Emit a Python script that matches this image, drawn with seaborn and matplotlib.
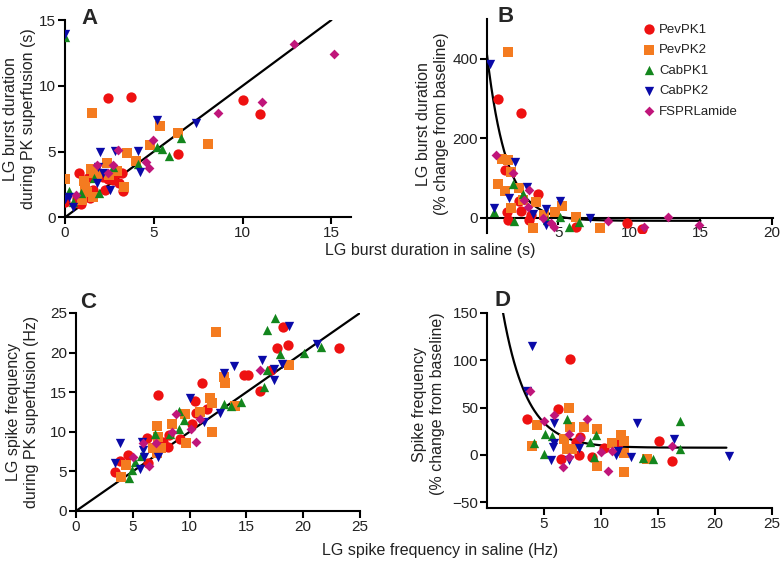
import numpy as np
import pandas as pd
import matplotlib
matplotlib.use("Agg")
import matplotlib.pyplot as plt
import seaborn as sns

sns.set_style("ticks")
plt.rcParams['font.family'] = ['Liberation Sans', 'DejaVu Sans']

groups = ["PevPK1", "PevPK2", "CabPK1", "CabPK2", "FSPRLamide"]
colors = {"PevPK1": "#ee1111", "PevPK2": "#f47b20", "CabPK1": "#13861d",
          "CabPK2": "#0a0aa8", "FSPRLamide": "#c0157a"}
markers = {"PevPK1": "o", "PevPK2": "s", "CabPK1": "^", "CabPK2": "v", "FSPRLamide": "D"}
sizes = {"PevPK1": 55, "PevPK2": 45, "CabPK1": 45, "CabPK2": 45, "FSPRLamide": 25}

# ---------------- Panel A: burst duration (s) saline vs PK ----------------
A_pev1_x = [2.44, 3.7, 10.0, 10.97, 6.34, 0.8, 0.0, 0.69, 0.75, 1.31, 1.44, 1.4, 1.6, 1.93, 2.12, 2.25, 2.44, 2.68, 2.91, 3.06, 3.19, 3.24, 0.9]
A_pev1_y = [9.04, 9.16, 8.9, 7.82, 4.78, 3.4, 1.16, 1.44, 1.1, 2.96, 1.94, 1.44, 2.07, 3.34, 3.08, 2.07, 2.88, 2.83, 3.34, 2.63, 3.34, 2.02, 1.0]
A_pev2_x = [1.5, 5.35, 6.38, 8.07, 4.78, 3.47, 4.0, 2.35, 1.46, 0.0, 1.65, 1.09, 1.23, 1.6, 2.5, 1.13, 0.94, 1.8, 2.9, 3.3]
A_pev2_y = [7.9, 6.94, 6.38, 5.54, 5.47, 4.86, 4.3, 4.15, 3.64, 2.9, 3.39, 2.78, 1.94, 1.56, 3.24, 2.33, 1.3, 3.2, 3.5, 2.3]
A_cab1_x = [0.0, 0.25, 0.47, 0.9, 1.63, 1.93, 2.72, 5.2, 5.44, 5.87, 6.53, 4.13]
A_cab1_y = [13.7, 2.0, 1.2, 1.87, 2.96, 1.82, 3.85, 5.37, 5.19, 4.68, 6.02, 4.05]
A_cab2_x = [0.0, 0.0, 0.24, 0.47, 1.97, 2.81, 4.13, 4.22, 5.16, 7.35, 1.84, 2.53, 1.78, 2.16]
A_cab2_y = [13.9, 1.4, 1.57, 0.76, 4.94, 5.01, 5.04, 3.47, 7.39, 7.14, 3.85, 2.08, 2.63, 3.39]
A_fsp_x = [12.9, 15.16, 11.1, 8.6, 4.97, 2.96, 4.56, 4.75, 1.82, 0.62, 2.72, 2.44]
A_fsp_y = [13.16, 12.45, 8.73, 7.95, 5.87, 5.11, 4.23, 3.72, 3.97, 1.7, 3.97, 3.34]

# ---------------- Panel B: burst duration % change ----------------
B_pev1_x = [0.76, 2.38, 3.6, 1.3, 1.41, 1.46, 2.22, 2.39, 2.97, 3.08, 6.25, 9.86, 10.9]
B_pev1_y = [299, 263, 60, 120, 15, -6, 43, 17, -6, 7, -23, -13, -29]
B_pev2_x = [1.46, 1.07, 1.46, 1.69, 0.77, 1.3, 2.27, 1.69, 2.5, 3.47, 3.2, 4.0, 4.77, 5.28, 6.27, 7.94]
B_pev2_y = [417, 147, 145, 116, 85, 68, 74, 24, 45, 39, -27, 7, 15, 30, 1, -27]
B_cab1_x = [0.47, 1.81, 2.5, 1.92, 4.19, 5.16, 5.74, 6.48]
B_cab1_y = [13, 85, 59, -8, -6, 1, -23, -10]
B_cab2_x = [0.19, 0.47, 1.99, 1.58, 2.8, 3.2, 4.12, 4.12, 5.1, 7.25]
B_cab2_y = [387, 24, 140, 50, 78, 8, 21, -18, 43, -2]
B_fsp_x = [0.6, 1.81, 2.97, 2.62, 2.9, 3.96, 4.47, 4.7, 8.47, 11.0, 12.75, 14.9]
B_fsp_y = [158, 112, 70, 45, 27, -2, -13, -23, -8, -23, 1, -18]
# exponential fit drawn in panel B
B_fit_span, B_fit_k, B_fit_plateau, B_fit_xmax = 418.0, 0.72, -8.0, 15.0

# ---------------- Panel C: spike frequency (Hz) saline vs PK ----------------
C_pev1_x = [3.44, 3.88, 4.56, 6.24, 6.38, 7.26, 7.7, 8.06, 8.15, 9.18, 10.2, 10.5, 10.6, 11.1, 11.5, 14.76, 15.1, 16.2, 17.2, 17.7, 18.2, 18.7, 23.15]
C_pev1_y = [4.94, 6.33, 7.05, 9.25, 6.08, 14.65, 8.74, 8.1, 9.59, 9.04, 10.98, 13.9, 12.33, 16.2, 12.84, 17.19, 17.19, 15.2, 17.74, 20.57, 23.18, 20.99, 20.57]
C_pev2_x = [3.97, 4.41, 7.12, 7.2, 6.76, 7.12, 7.47, 8.44, 9.62, 9.65, 11.97, 11.76, 11.97, 12.35, 13.06, 13.09, 14.03, 18.73, 10.94]
C_pev2_y = [4.3, 5.79, 10.77, 9.38, 7.9, 7.35, 7.9, 10.98, 12.25, 8.53, 9.92, 14.23, 13.6, 22.55, 16.9, 16.13, 13.3, 18.45, 12.5]
C_cab1_x = [4.7, 4.91, 5.15, 5.73, 6.97, 8.29, 9.09, 9.03, 9.53, 13.0, 13.68, 14.53, 16.53, 16.82, 16.82, 17.56, 17.94, 20.06, 21.6]
C_cab1_y = [4.22, 5.15, 6.2, 6.93, 9.71, 9.71, 10.3, 12.67, 11.49, 13.51, 13.26, 13.72, 15.71, 17.82, 22.89, 24.37, 19.8, 19.93, 20.65]
C_cab2_x = [3.44, 3.88, 5.59, 5.79, 5.94, 6.0, 7.2, 10.0, 11.29, 12.65, 13.06, 13.88, 16.38, 17.41, 17.41, 18.09, 18.73, 21.2]
C_cab2_y = [6.08, 8.53, 5.36, 8.74, 7.69, 6.84, 6.84, 14.23, 11.28, 12.33, 17.48, 18.33, 19.09, 17.9, 16.55, 18.54, 23.4, 21.1]
C_fsp_x = [5.06, 5.94, 6.44, 7.06, 8.44, 8.79, 10.56, 10.1, 10.94, 16.24]
C_fsp_y = [6.84, 8.53, 5.7, 8.61, 9.92, 12.2, 8.74, 10.4, 11.57, 17.74]

# ---------------- Panel D: spike frequency % change ----------------
D_pev1_x = [3.47, 6.26, 7.29, 6.47, 7.82, 8.12, 8.03, 9.2, 10.24, 11.5, 15.1, 16.26]
D_pev1_y = [37.7, 48.2, 101.8, -3.9, 13.7, 19.4, 0.0, -1.8, 7.0, 11.5, 14.8, -6.3]
D_pev2_x = [3.91, 4.41, 7.15, 7.29, 6.76, 7.0, 7.44, 8.47, 9.65, 9.65, 10.97, 11.76, 12.0, 12.0, 12.0, 14.06]
D_pev2_y = [9.5, 31.3, 50.0, 30.0, 16.5, 6.0, 6.7, 30.0, 27.0, -11.6, 13.0, 21.0, 14.8, 2.5, -17.6, -4.6]
D_cab1_x = [4.12, 5.09, 5.0, 5.74, 7.06, 9.06, 9.56, 9.41, 13.7, 14.6, 16.9, 16.94]
D_cab1_y = [13.0, 21.8, 0.7, 20.0, 37.7, 13.7, 20.8, -2.0, -3.5, -4.6, 36.0, 6.0]
D_cab2_x = [3.97, 3.47, 5.88, 5.82, 5.91, 5.62, 7.2, 8.03, 11.32, 11.5, 12.65, 13.12, 16.41, 21.26]
D_cab2_y = [115.0, 67.6, 33.5, 8.5, 13.0, -5.6, -5.3, 7.7, 0.0, 4.0, -2.0, 33.5, 16.5, -1.0]
D_fsp_x = [3.76, 5.0, 5.91, 7.15, 8.76, 6.65, 7.15, 10.03, 10.59, 10.97, 16.26, 8.2]
D_fsp_y = [67.6, 36.0, 42.0, 21.8, 38.4, -12.3, -1.8, 3.2, -16.9, 4.2, 9.5, 18.0]
D_fit_span, D_fit_k, D_fit_plateau, D_fit_xmin, D_fit_xmax = 276.0, 0.47, 7.7, 1.4, 21.0


def frame(xs, ys):
    rows = []
    for g, x, y in zip(groups, xs, ys):
        rows.append(pd.DataFrame({"x": x, "y": y, "group": g}))
    return pd.concat(rows, ignore_index=True)


dfA = frame([A_pev1_x, A_pev2_x, A_cab1_x, A_cab2_x, A_fsp_x], [A_pev1_y, A_pev2_y, A_cab1_y, A_cab2_y, A_fsp_y])
dfB = frame([B_pev1_x, B_pev2_x, B_cab1_x, B_cab2_x, B_fsp_x], [B_pev1_y, B_pev2_y, B_cab1_y, B_cab2_y, B_fsp_y])
dfC = frame([C_pev1_x, C_pev2_x, C_cab1_x, C_cab2_x, C_fsp_x], [C_pev1_y, C_pev2_y, C_cab1_y, C_cab2_y, C_fsp_y])
dfD = frame([D_pev1_x, D_pev2_x, D_cab1_x, D_cab2_x, D_fsp_x], [D_pev1_y, D_pev2_y, D_cab1_y, D_cab2_y, D_fsp_y])

W, H = 783, 563
fig = plt.figure(figsize=(W / 100, H / 100), dpi=100)


def ax_px(l, r, b, t):
    return fig.add_axes([l / W, 1 - b / H, (r - l) / W, (b - t) / H])


axA = ax_px(65, 351, 217.3, 20)
axB = ax_px(487, 773, 233.5, 19)
axC = ax_px(76, 360, 511, 313)
axD = ax_px(487, 772, 508, 313)

TICK_FS = 11
LAB_FS = 11.5
TXT = "#222222"


def scatter(ax, df, legend=False):
    for g in groups:
        sub = df[df.group == g]
        sns.scatterplot(data=sub, x="x", y="y", ax=ax, color=colors[g], marker=markers[g],
                        s=sizes[g], linewidth=0, label=g if legend else None, legend=False, zorder=3)


def style(ax):
    sns.despine(ax=ax)
    for s in ["left", "bottom"]:
        ax.spines[s].set_linewidth(1.5)
        ax.spines[s].set_color("black")
    ax.tick_params(axis="both", width=1.5, length=5, labelsize=TICK_FS, colors="black",
                   labelcolor=TXT, pad=1.5)
    ax.set_xlabel("")
    ax.set_ylabel("")


def ylab(ax, text, xc, yc=0.5):
    ax.set_ylabel(text, fontsize=LAB_FS, linespacing=1.25, color=TXT)
    ax.yaxis.label.set_va("center")
    ax.yaxis.set_label_coords(xc, yc)


# Panel A
scatter(axA, dfA)
axA.plot([0, 15], [0, 15], color="black", lw=1.6, zorder=2)
axA.set_xlim(0, 16.1)
axA.set_ylim(0, 15)
style(axA)
axA.set_xticks([0, 5, 10, 15])
axA.set_yticks([0, 5, 10, 15])
ylab(axA, "LG burst duration\nduring PK superfusion (s)", -0.16)

# Panel B
scatter(axB, dfB, legend=True)
xb = np.linspace(0, B_fit_xmax, 300)
axB.plot(xb, B_fit_span * np.exp(-B_fit_k * xb) + B_fit_plateau, color="black", lw=1.6, zorder=2)
axB.set_xlim(0, 20.1)
axB.set_ylim(-40, 500)
style(axB)
axB.spines["bottom"].set_position(("data", 0))
axB.set_xticks([5, 10, 15, 20])
axB.set_yticks([0, 200, 400])
axB.tick_params(axis="x", pad=1)
ylab(axB, "LG burst duration\n(% change from baseline)", -0.192, 0.51)
leg = axB.legend(loc="upper left", bbox_to_anchor=(0.505, 1.015), frameon=False, fontsize=9.5,
                 handletextpad=0.1, labelspacing=0.62, borderaxespad=0.2, handlelength=1.4)
for t in leg.get_texts():
    t.set_color(TXT)

# Panel C
scatter(axC, dfC)
axC.plot([0, 25], [0, 25], color="black", lw=1.6, zorder=2)
axC.set_xlim(0, 25)
axC.set_ylim(0, 25)
style(axC)
axC.set_xticks([0, 5, 10, 15, 20, 25])
axC.set_yticks([0, 5, 10, 15, 20, 25])
ylab(axC, "LG spike frequency\nduring PK superfusion (Hz)", -0.190)

# Panel D
scatter(axD, dfD)
xd = np.linspace(D_fit_xmin, D_fit_xmax, 300)
axD.plot(xd, D_fit_span * np.exp(-D_fit_k * xd) + D_fit_plateau, color="black", lw=1.6, zorder=2)
axD.set_xlim(0, 25)
axD.set_ylim(-56, 150)
style(axD)
axD.set_xticks([5, 10, 15, 20, 25])
axD.set_yticks([-50, 0, 50, 100, 150])
axD.set_yticklabels(["\u221250", "0", "50", "100", "150"])
ylab(axD, "Spike frequency\n(% change from baseline)", -0.204, 0.533)

# Panel letters
for x, y, s in [(90, 18, "A"), (506, 16, "B"), (88, 302, "C"), (502, 300, "D")]:
    fig.text(x / W, 1 - y / H, s, fontsize=16, fontweight="bold", ha="center", va="center")

# shared x labels
fig.text(430 / W, 1 - 250 / H, "LG burst duration in saline (s)", fontsize=LAB_FS, ha="center", va="center",
         color=TXT)
fig.text(440 / W, 1 - 551 / H, "LG spike frequency in saline (Hz)", fontsize=LAB_FS, ha="center", va="center",
         color=TXT)

fig.savefig("out.png", dpi=100)
